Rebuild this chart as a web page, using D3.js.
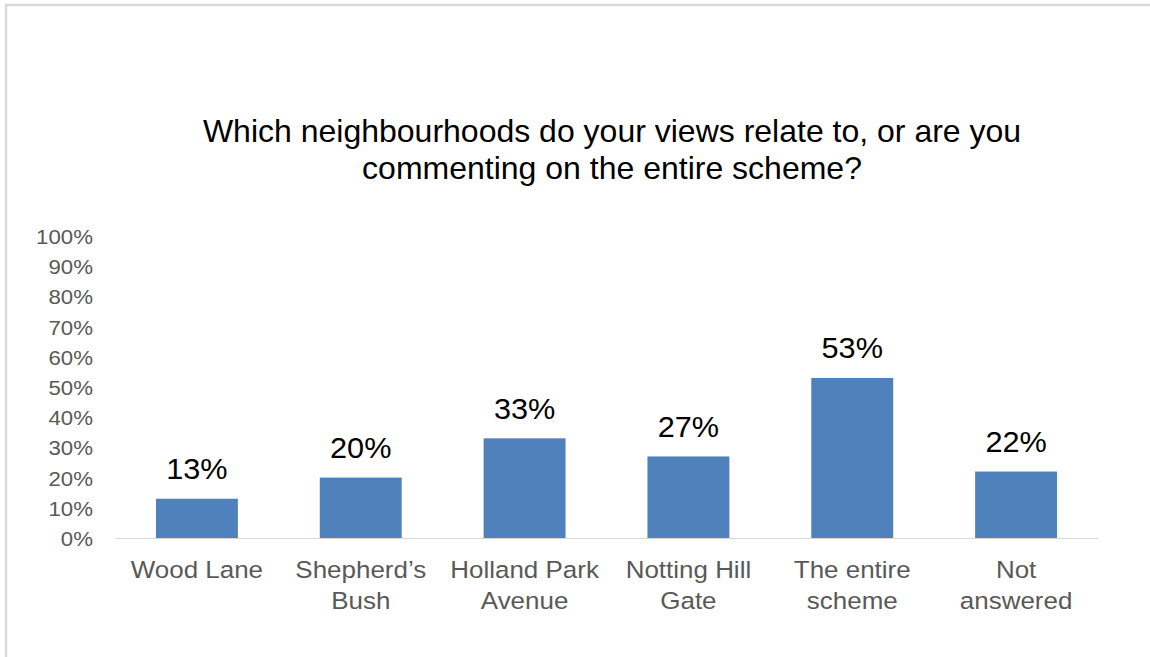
<!DOCTYPE html>
<html>
<head>
<meta charset="utf-8">
<script src="https://cdn.jsdelivr.net/npm/d3@7"></script>
<style>
  html, body { margin: 0; padding: 0; background: #fff; }
  svg { display: block; font-family: "Liberation Sans", Arial, sans-serif; }
</style>
</head>
<body>
<svg id="chart" width="1150" height="657"></svg>
<script>
// Survey responses: share of respondents per neighbourhood
const categories = [
  ["Wood Lane"],
  ["Shepherd\u2019s", "Bush"],
  ["Holland Park", "Avenue"],
  ["Notting Hill", "Gate"],
  ["The entire", "scheme"],
  ["Not", "answered"]
];
const values = [0.13, 0.20, 0.33, 0.27, 0.53, 0.22];
const yTicks = [0, 0.1, 0.2, 0.3, 0.4, 0.5, 0.6, 0.7, 0.8, 0.9, 1.0];
const titleLines = [
  "Which neighbourhoods do your views relate to, or are you",
  "commenting on the entire scheme?"
];

const W = 1150, H = 657;
const plot = { left: 115, right: 1098, top: 236, bottom: 538 };
const sx = 1.06; // slight horizontal stretch of the axis and data text

const svg = d3.select("#chart");

// outer frame (only top and left edges fall inside the canvas)
svg.append("rect")
  .attr("x", 6).attr("y", 5)
  .attr("width", W + 20).attr("height", H + 20)
  .attr("fill", "#fff")
  .attr("stroke", "#d9d9d9")
  .attr("stroke-width", 2.5);

const keys = categories.map(c => c.join(" "));
const x = d3.scaleBand()
  .domain(keys)
  .range([plot.left, plot.right])
  .paddingInner(0.5)
  .paddingOuter(0.25);

const y = d3.scaleLinear()
  .domain([0, 1])
  .range([plot.bottom, plot.top]);

function stretchedText(sel, px, py, s) {
  return sel.attr("transform", `translate(${px},${py}) scale(${s},1)`);
}

// title
const title = svg.append("g");
titleLines.forEach((t, i) => {
  stretchedText(title.append("text"), 612, 142 + i * 37, 1)
    .attr("text-anchor", "middle")
    .attr("font-size", 32)
    .attr("fill", "#000")
    .text(t);
});

// y axis labels
const yAxis = d3.axisLeft(y)
  .tickValues(yTicks)
  .tickFormat(d3.format(".0%"))
  .tickSize(0)
  .tickPadding(0);

const gy = svg.append("g")
  .attr("transform", `translate(93,0)`)
  .call(yAxis);
gy.select(".domain").remove();
gy.selectAll(".tick text")
  .attr("font-family", "Liberation Sans, Arial, sans-serif")
  .attr("font-size", 21)
  .attr("fill", "#595959")
  .attr("x", 0)
  .attr("dy", "0.36em")
  .attr("transform", `scale(${sx},1)`)
  .attr("transform-origin", "0 0");

// bars
svg.append("g")
  .selectAll("rect")
  .data(values)
  .join("rect")
  .attr("x", (d, i) => x(keys[i]))
  .attr("width", x.bandwidth())
  .attr("y", d => y(d))
  .attr("height", d => y(0) - y(d))
  .attr("fill", "#4f81bd");

// baseline
svg.append("line")
  .attr("x1", plot.left).attr("x2", plot.right)
  .attr("y1", y(0) + 0.5).attr("y2", y(0) + 0.5)
  .attr("stroke", "#d9d9d9")
  .attr("stroke-width", 1.2);

// value labels
const fmt = d3.format(".0%");
const vl = svg.append("g");
values.forEach((v, i) => {
  stretchedText(vl.append("text"), x(keys[i]) + x.bandwidth() / 2, y(v) - 19.5, 1.04)
    .attr("text-anchor", "middle")
    .attr("font-size", 29.5)
    .attr("fill", "#000")
    .text(fmt(v));
});

// category labels
const cl = svg.append("g");
categories.forEach((lines, i) => {
  lines.forEach((t, j) => {
    stretchedText(cl.append("text"), x(keys[i]) + x.bandwidth() / 2, 578 + j * 31, sx)
      .attr("text-anchor", "middle")
      .attr("font-size", 24.5)
      .attr("fill", "#595959")
      .text(t);
  });
});
</script>
</body>
</html>
